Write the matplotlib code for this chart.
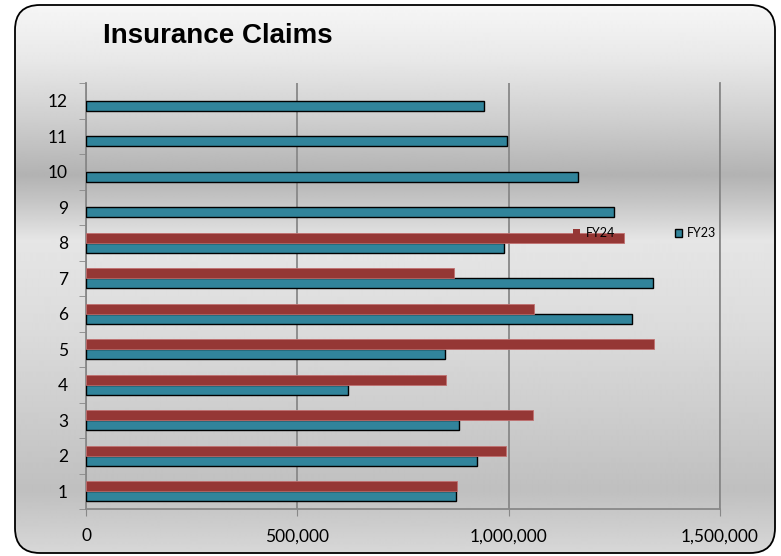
import numpy as np
import matplotlib
matplotlib.use("Agg")
import matplotlib.pyplot as plt
from matplotlib.patches import FancyBboxPatch, Patch
from matplotlib.ticker import FuncFormatter

# データ
months = [1, 2, 3, 4, 5, 6, 7, 8, 9, 10, 11, 12]
fy23 = [875000, 924000, 883000, 619000, 850000, 1292000,
        1341000, 990000, 1249000, 1164000, 996000, 942000]
fy24 = [877000, 994000, 1058000, 851000, 1343000, 1061000, 870000, 1274000]
x_ticks = [0, 500000, 1000000, 1500000]

red = "#953735"
teal = "#31849B"
grid_gray = "#888888"

plt.rcParams["font.family"] = ["Lato", "DejaVu Sans"]

fig = plt.figure(figsize=(7.81, 5.56), dpi=100)
fig.patch.set_facecolor("white")

# 背景のグラデーション (角丸の枠)
bg = fig.add_axes([0, 0, 1, 1], zorder=-1)
bg.axis("off")
stop_y = [0, 60, 120, 175, 200, 240, 330, 420, 490, 556]
stop_v = [0.97, 0.91, 0.81, 0.70, 0.77, 0.90, 0.86, 0.80, 0.75, 0.85]
rows = np.interp(np.arange(556), stop_y, stop_v)
grad = np.repeat(rows[:, None], 2, axis=1)
im = bg.imshow(grad, cmap="gray", vmin=0, vmax=1, extent=[0, 1, 0, 1],
               aspect="auto", interpolation="bilinear")
box = FancyBboxPatch((0.15, 0.03), 7.60, 5.48,
                     boxstyle="round,pad=0,rounding_size=0.25",
                     transform=fig.dpi_scale_trans,
                     facecolor="none", edgecolor="black", lw=1.3)
bg.add_patch(box)
im.set_clip_path(box)

# グラフ本体
ax = fig.add_axes([86 / 781, 47 / 556, 634 / 781, 426 / 556])
ax.set_facecolor("none")

y = np.array(months)
ax.barh(y - 0.14, fy23, height=0.28, color=teal, edgecolor="black",
        lw=1, label="FY23", zorder=3)
ax.barh(y[:len(fy24)] + 0.14, fy24, height=0.28, color=red,
        edgecolor="#c07070", lw=0.6, label="FY24", zorder=3)

ax.set_xlim(0, 1500000)
ax.set_ylim(0.5, 12.5)

ax.set_xticks(x_ticks)
ax.xaxis.set_major_formatter(FuncFormatter(lambda v, p: "{:,.0f}".format(v)))
ax.tick_params(axis="x", length=5, color=grid_gray, pad=9, labelsize=12.5)

ax.set_yticks(months)
ax.set_yticks(np.arange(0.5, 13, 1), minor=True)
ax.tick_params(axis="y", which="major", length=0, pad=13, labelsize=12.5)
ax.tick_params(axis="y", which="minor", length=5, color=grid_gray)

ax.xaxis.grid(True, color=grid_gray, lw=1.3)
ax.set_axisbelow(True)

ax.spines["top"].set_visible(False)
for s in ["left", "bottom", "right"]:
    ax.spines[s].set_color(grid_gray)
    ax.spines[s].set_linewidth(1.3)

# 凡例
handles = [Patch(facecolor=red, label="FY24"),
           Patch(facecolor=teal, edgecolor="black", label="FY23")]
ax.legend(handles=handles, loc="center left", bbox_to_anchor=(0.768, 0.648),
          ncol=2, frameon=False, prop={"family": "Lato", "size": 9},
          handlelength=0.6, handleheight=0.6, handletextpad=0.4,
          columnspacing=4.8, borderpad=0, borderaxespad=0)

# タイトル
fig.text(103 / 781, 1 - 36 / 556, "Insurance Claims", fontsize=20,
         fontweight="bold", family="Liberation Sans", va="center", ha="left")

fig.savefig("out.png", dpi=100)
